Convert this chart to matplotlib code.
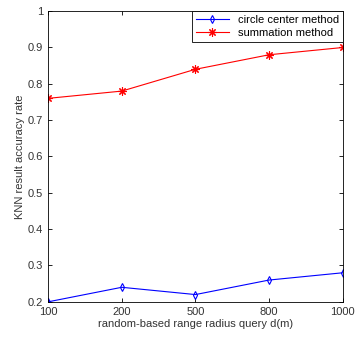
import matplotlib
matplotlib.use("Agg")
import matplotlib.pyplot as plt

radius_labels = ["100", "200", "500", "800", "1000"]
circle_center = [0.20, 0.24, 0.22, 0.26, 0.28]
summation = [0.76, 0.78, 0.84, 0.88, 0.90]

plt.rcParams["font.family"] = ["Liberation Sans", "DejaVu Sans"]

fig = plt.figure(figsize=(3.56, 3.38), dpi=100)
ax = fig.add_axes([0.135, 0.107, 0.828, 0.86])

x = list(range(len(radius_labels)))
ax.plot(x, circle_center, color="blue", marker="d", markersize=4, markerfacecolor="none",
        markeredgewidth=0.8, linewidth=0.8, label="circle center method")
ax.plot(x, summation, color="red", marker=(8, 2, 0), markersize=6, markeredgewidth=0.8,
        linewidth=0.8, label="summation method")

ax.set_xlim(0, len(x) - 1)
ax.set_ylim(0.2, 1.0)
ax.set_xticks(x)
ax.set_xticklabels(radius_labels)
ax.set_yticks([0.2, 0.3, 0.4, 0.5, 0.6, 0.7, 0.8, 0.9, 1.0])
ax.set_yticklabels(["0.2", "0.3", "0.4", "0.5", "0.6", "0.7", "0.8", "0.9", "1"])
ax.tick_params(direction="in", labelsize=8, length=3, width=0.6, top=True, right=True,
               labelcolor="#333333")
for s in ax.spines.values():
    s.set_linewidth(0.6)

ax.set_xlabel("random-based range radius query d(m)", fontsize=8, labelpad=2, color="#333333")
ax.set_ylabel("KNN result accuracy rate", fontsize=8, labelpad=2, color="#333333")

leg = ax.legend(loc="upper right", fontsize=8, fancybox=False, framealpha=1,
                edgecolor="black", borderaxespad=0, handlelength=3.0,
                borderpad=0.35, labelspacing=0.25)
leg.get_frame().set_linewidth(0.6)

fig.savefig("out.png", dpi=100)
